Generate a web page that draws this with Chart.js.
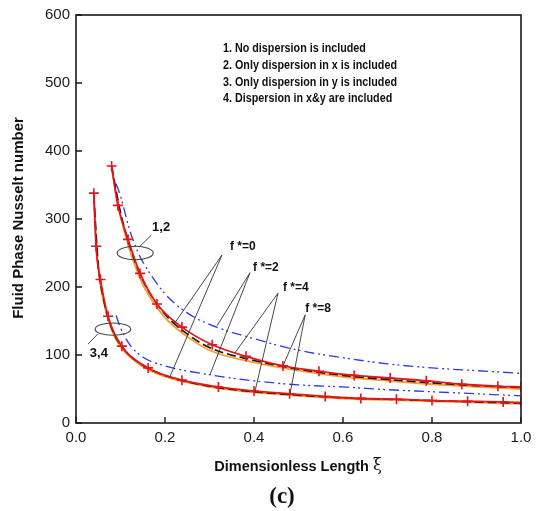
<!DOCTYPE html>
<html><head><meta charset="utf-8">
<script src="https://cdn.jsdelivr.net/npm/chart.js@4"></script>
<style>html,body{margin:0;padding:0;background:#fff}#wrap{width:542px;height:511px;position:relative}</style>
</head><body><div id="wrap"><canvas id="c"></canvas></div>
<script>
// ---- tick labels ----
const xTickValues = [0.0, 0.2, 0.4, 0.6, 0.8, 1.0];
const yTickValues = [0, 100, 200, 300, 400, 500, 600];

// ---- upper family (cases 1,2) ----
const upRedX    = [0.08, 0.094, 0.117, 0.144, 0.182, 0.238, 0.306, 0.382, 0.465, 0.546, 0.625, 0.706, 0.787, 0.867, 0.948, 1.0];
const upRedY    = [378, 320, 270, 220, 175, 141, 115, 98, 84, 76, 70, 66, 62, 57, 54, 53];
const upBlackX  = [0.08, 0.1, 0.12, 0.15, 0.2, 0.25, 0.3, 0.4, 0.5, 0.6, 0.7, 0.8, 0.9, 1.0];
const upBlackY  = [378, 310, 262, 210, 160, 131, 111, 92, 79, 70, 64, 59, 55, 52];
const upOrangeX = [0.08, 0.1, 0.12, 0.15, 0.2, 0.25, 0.3, 0.4, 0.5, 0.6, 0.7, 0.8, 0.9, 1.0];
const upOrangeY = [374, 305, 256, 204, 155, 127, 107, 89, 77, 68, 62, 57, 53, 50];
const upBlueX   = [0.09, 0.1, 0.12, 0.14, 0.15, 0.2, 0.25, 0.3, 0.4, 0.5, 0.6, 0.7, 0.8, 0.9, 1.0];
const upBlueY   = [352, 334, 285, 250, 237, 190, 162, 145, 124, 107, 96, 87, 81, 77, 73];

// ---- lower family (cases 3,4) ----
const loRedX    = [0.04, 0.045, 0.055, 0.072, 0.103, 0.162, 0.238, 0.32, 0.40, 0.48, 0.56, 0.64, 0.72, 0.80, 0.88, 0.96, 1.0];
const loRedY    = [338, 260, 211, 157, 113, 81, 63, 53, 47, 43, 39, 36, 35, 33, 32, 31, 30];
const loBlackX  = [0.04, 0.05, 0.06, 0.08, 0.1, 0.15, 0.2, 0.3, 0.4, 0.5, 0.6, 0.7, 0.8, 0.9, 1.0];
const loBlackY  = [335, 232, 188, 140, 115, 85, 70, 54, 46, 41, 37, 35, 33, 31, 29];
const loOrangeX = [0.04, 0.05, 0.06, 0.08, 0.1, 0.15, 0.2, 0.3, 0.4, 0.5, 0.6, 0.7, 0.8, 0.9, 1.0];
const loOrangeY = [330, 228, 184, 137, 112, 83, 68, 53, 45, 40, 36, 34, 32, 30, 28];
const loBlueX   = [0.09, 0.1, 0.12, 0.15, 0.2, 0.3, 0.4, 0.5, 0.6, 0.7, 0.8, 0.9, 1.0];
const loBlueY   = [158, 140, 116, 97, 84, 71, 62, 56, 53, 49, 46, 43, 40];

// ---- text ----
const noteLines = ['1. No dispersion is included', '2. Only dispersion in x is included',
                   '3. Only dispersion in y is included', '4. Dispersion in x&y are included'];
const fLabels = ['f *=0', 'f *=2', 'f *=4', 'f *=8'];
const groupLabels = ['1,2', '3,4'];
const xTitle = 'Dimensionless Length ';
const xTitleSym = 'ξ';
const yTitle = 'Fluid Phase Nusselt number';
const panelLabel = '(c)';

// ---- annotation placement (data units) ----
const annot = {
  fLabel: [[0.346, 259], [0.398, 228], [0.465, 199], [0.515, 168]],
  fOrigin: [[0.328, 247], [0.391, 221], [0.454, 191], [0.515, 159]],
  fTargets: [[[0.222, 147], [0.211, 68]], [[0.317, 143], [0.301, 71]],
             [[0.357, 103], [0.402, 46]], [[0.465, 84], [0.481, 43]]],
  ellipse: [[0.133, 250, 0.0405, 10], [0.083, 138, 0.04, 9]],
  gLabel: [[0.171, 287], [0.031, 103]],
  gLeader: [[[0.142, 259], [0.169, 276]], [[0.049, 131], [0.027, 116]]]
};

const pts = (xs, ys) => xs.map((x, i) => ({x, y: ys[i]}));
const RED = '#e8141c', BLACK = '#111', ORANGE = '#f0a030', BLUE = '#2a3ee0';
function redSet(xs, ys) { return {data: pts(xs, ys), borderColor: RED, borderWidth: 1.8, pointStyle: 'cross', pointRadius: 5, pointBorderColor: RED, pointBorderWidth: 1.6, cubicInterpolationMode: 'monotone', order: 1}; }
function blackSet(xs, ys) { return {data: pts(xs, ys), borderColor: BLACK, borderWidth: 1.6, borderDash: [9, 4], pointRadius: 0, cubicInterpolationMode: 'monotone', order: 2}; }
function orangeSet(xs, ys) { return {data: pts(xs, ys), borderColor: ORANGE, borderWidth: 1.8, pointRadius: 0, cubicInterpolationMode: 'monotone', order: 3}; }
function blueSet(xs, ys) { return {data: pts(xs, ys), borderColor: BLUE, borderWidth: 1.3, borderDash: [10, 4, 2, 3, 2, 4], pointRadius: 0, cubicInterpolationMode: 'monotone', order: 4}; }

const deco = {
  id: 'deco',
  afterDatasetsDraw(chart) {
    const {ctx, chartArea: a, scales: {x, y}} = chart;
    const px = v => x.getPixelForValue(v), py = v => y.getPixelForValue(v);
    ctx.save();
    // frame
    ctx.strokeStyle = '#1a1a1a'; ctx.lineWidth = 1.6;
    ctx.strokeRect(a.left, a.top, a.right - a.left, a.bottom - a.top);
    // inward ticks
    ctx.lineWidth = 1.4; ctx.beginPath();
    xTickValues.forEach(v => { ctx.moveTo(px(v), a.bottom); ctx.lineTo(px(v), a.bottom - 6); });
    yTickValues.forEach(v => { ctx.moveTo(a.left, py(v)); ctx.lineTo(a.left + 6, py(v)); });
    ctx.stroke();
    // leader lines
    ctx.strokeStyle = '#333'; ctx.lineWidth = 0.9; ctx.beginPath();
    annot.fOrigin.forEach((o, i) => {
      annot.fTargets[i].forEach(t => { ctx.moveTo(px(o[0]), py(o[1])); ctx.lineTo(px(t[0]), py(t[1])); });
    });
    annot.gLeader.forEach(l => { ctx.moveTo(px(l[0][0]), py(l[0][1])); ctx.lineTo(px(l[1][0]), py(l[1][1])); });
    ctx.stroke();
    // ellipses
    ctx.strokeStyle = '#444'; ctx.lineWidth = 1.1;
    annot.ellipse.forEach(e => {
      const cx = px(e[0]), cy = py(e[1]);
      const rx = px(e[0] + e[2]) - cx, ry = cy - py(e[1] + e[3]);
      ctx.beginPath(); ctx.ellipse(cx, cy, rx, ry, 0, 0, Math.PI * 2); ctx.stroke();
    });
    // f* labels
    ctx.fillStyle = '#111'; ctx.textBaseline = 'middle'; ctx.textAlign = 'left';
    ctx.font = 'bold 12px "Liberation Sans", Arial, sans-serif';
    fLabels.forEach((t, i) => ctx.fillText(t, px(annot.fLabel[i][0]), py(annot.fLabel[i][1])));
    ctx.font = 'bold 13px "Liberation Sans", Arial, sans-serif';
    groupLabels.forEach((t, i) => ctx.fillText(t, px(annot.gLabel[i][0]), py(annot.gLabel[i][1])));
    // note block (condensed bold)
    ctx.font = 'bold 12px "Liberation Sans", Arial, sans-serif';
    const sx = 174 / ctx.measureText(noteLines[1]).width;
    noteLines.forEach((t, i) => {
      ctx.save(); ctx.translate(223, 49 + i * 16.7); ctx.scale(sx, 1); ctx.fillText(t, 0, 0); ctx.restore();
    });
    // axis titles
    ctx.font = 'bold 15px "Liberation Sans", Arial, sans-serif';
    ctx.save(); ctx.translate(19, 218); ctx.rotate(-Math.PI / 2); ctx.textAlign = 'center'; ctx.fillText(yTitle, 0, 0); ctx.restore();
    ctx.font = 'bold 14.5px "Liberation Sans", Arial, sans-serif';
    const w1 = ctx.measureText(xTitle).width;
    ctx.font = '16px "DejaVu Serif", serif';
    const w2 = ctx.measureText(xTitleSym).width;
    const x0 = 298 - (w1 + w2) / 2;
    ctx.font = 'bold 14.5px "Liberation Sans", Arial, sans-serif';
    ctx.fillText(xTitle, x0, 467);
    ctx.font = '16px "DejaVu Serif", serif';
    ctx.fillText(xTitleSym, x0 + w1, 466);
    ctx.font = 'bold 23px "Liberation Serif", "Times New Roman", serif';
    ctx.textAlign = 'center';
    ctx.fillText(panelLabel, 282, 497);
    ctx.restore();
  }
};

new Chart(document.getElementById('c'), {
  type: 'line',
  data: {
    datasets: [
      redSet(upRedX, upRedY), blackSet(upBlackX, upBlackY), orangeSet(upOrangeX, upOrangeY), blueSet(upBlueX, upBlueY),
      redSet(loRedX, loRedY), blackSet(loBlackX, loBlackY), orangeSet(loOrangeX, loOrangeY), blueSet(loBlueX, loBlueY)
    ]
  },
  options: {
    responsive: true, maintainAspectRatio: false, animation: false,
    layout: {padding: {left: 0, right: 21, top: 15, bottom: 0}},
    plugins: {legend: {display: false}, tooltip: {enabled: false}},
    scales: {
      x: {
        type: 'linear', min: 0, max: 1,
        afterBuildTicks: s => { s.ticks = xTickValues.map(v => ({value: v})); },
        afterFit: s => { s.height = 88; },
        grid: {display: false, drawTicks: false}, border: {display: false},
        ticks: {padding: 6, color: '#1a1a1a', font: {family: '"Liberation Sans", Arial, sans-serif', size: 15}, callback: v => v.toFixed(1), maxRotation: 0}
      },
      y: {
        type: 'linear', min: 0, max: 600,
        afterBuildTicks: s => { s.ticks = yTickValues.map(v => ({value: v})); },
        afterFit: s => { s.width = 76; },
        grid: {display: false, drawTicks: false}, border: {display: false},
        ticks: {padding: 6, color: '#1a1a1a', font: {family: '"Liberation Sans", Arial, sans-serif', size: 15}}
      }
    }
  },
  plugins: [deco]
});
</script></body></html>
